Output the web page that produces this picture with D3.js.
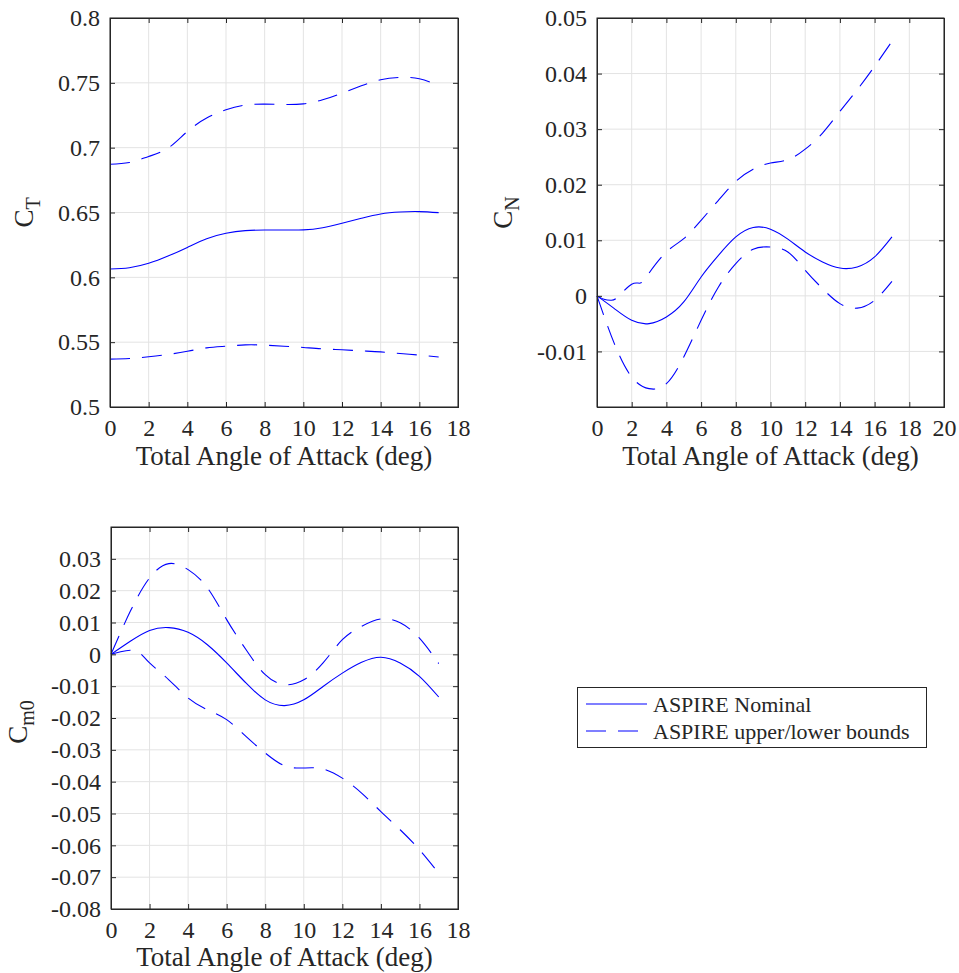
<!DOCTYPE html>
<html>
<head>
<meta charset="utf-8">
<script src="https://cdn.jsdelivr.net/npm/d3@7"></script>
<style>
  body { margin: 0; background: #fff; }
  svg text { font-family: "Liberation Serif", "Times New Roman", serif !important; fill: #262626; }
</style>
</head>
<body>
<script>
// angle of attack samples (deg)
const alpha = [0,1,2,3,4,5,6,7,8,9,10,11,12,13,14,15,16,17];

// C_T
const ctNom = [0.6064,0.6074,0.6108,0.6164,0.6231,0.6298,0.6340,0.6360,0.6365,0.6365,0.6366,0.6383,0.6417,0.6455,0.6489,0.6504,0.6507,0.6499];
const ctUp  = [0.6872,0.6885,0.6932,0.6996,0.7125,0.7228,0.7292,0.7328,0.7336,0.7333,0.7338,0.7369,0.7421,0.7477,0.7524,0.7542,0.7531,0.7480];
const ctLo  = [0.5369,0.5374,0.5387,0.5405,0.5430,0.5456,0.5469,0.5479,0.5477,0.5469,0.5459,0.5448,0.5441,0.5433,0.5425,0.5412,0.5400,0.5385];

// C_N
const cnNom = [0,-0.0023,-0.0044,-0.0050,-0.0038,-0.0011,0.0034,0.0073,0.0106,0.0123,0.0120,0.0102,0.0079,0.0061,0.0050,0.0052,0.0070,0.0106];
const cnAlphaUp = [0,0.4,0.8,1.2,2,2.5,3,4,5,6,7,8,9,10,11,12,13,14,15,16,17];
const cnUp  = [0,-0.0006,-0.0008,-0.0002,0.0021,0.0023,0.0041,0.0079,0.0103,0.0136,0.0172,0.0206,0.0228,0.0239,0.0245,0.0264,0.0293,0.0332,0.0371,0.0413,0.0458];
const cnLo  = [0,-0.0086,-0.0146,-0.0167,-0.0158,-0.0110,-0.0044,0.0016,0.0058,0.0084,0.0088,0.0079,0.0046,0.0013,-0.0014,-0.0022,-0.0008,0.0026];

// C_m0
const cmNom = [0,0.0041,0.0075,0.0084,0.0069,0.0030,-0.0027,-0.0090,-0.0143,-0.0161,-0.0143,-0.0101,-0.0059,-0.0025,-0.0009,-0.0027,-0.0069,-0.0134];
const cmUp  = [0,0.0135,0.0240,0.0285,0.0266,0.0209,0.0109,0.0015,-0.0064,-0.0095,-0.0080,-0.0027,0.0046,0.0088,0.0111,0.0099,0.0051,-0.0029];
const cmAlphaLo = [0,0.5,1,1.5,2,3,4,5,6,7,8,9,10,11,12,13,14,15,16,17];
const cmLo  = [0,0.0008,0.0013,0.0004,-0.0027,-0.0080,-0.0137,-0.0174,-0.0205,-0.0258,-0.0310,-0.0350,-0.0357,-0.0360,-0.0389,-0.0436,-0.0494,-0.0551,-0.0614,-0.0688];

// tick labels
const ctTicks = [0.5,0.55,0.6,0.65,0.7,0.75,0.8];
const cnTicks = [-0.01,0,0.01,0.02,0.03,0.04,0.05];
const cmTicks = [-0.08,-0.07,-0.06,-0.05,-0.04,-0.03,-0.02,-0.01,0,0.01,0.02,0.03];

const svg = d3.select("body").append("svg")
    .attr("width", 959)
    .attr("height", 973);

const blue = "#0000ff";
const dash = "20,12";

function pairs(xs, ys) { return xs.map((x, i) => [x, ys[i]]); }

// matlab style label: plain hyphen, no trailing zeros
const fmtY = d => String(+d.toFixed(3));

function panel(o) {
  const x = d3.scaleLinear().domain(o.xdom).range([o.left, o.right]);
  const y = d3.scaleLinear().domain(o.ydom).range([o.bottom, o.top]);
  const g = svg.append("g");

  // grid
  g.selectAll(".gx").data(o.xticks).enter().append("line")
      .attr("x1", d => x(d)).attr("x2", d => x(d))
      .attr("y1", o.top).attr("y2", o.bottom)
      .attr("stroke", "#e3e3e3").attr("stroke-width", 1);
  g.selectAll(".gy").data(o.yticks).enter().append("line")
      .attr("x1", o.left).attr("x2", o.right)
      .attr("y1", d => y(d)).attr("y2", d => y(d))
      .attr("stroke", "#e3e3e3").attr("stroke-width", 1);

  // curves
  const line = d3.line().x(d => x(d[0])).y(d => y(d[1])).curve(d3.curveNatural);
  o.series.forEach(s => {
    g.append("path")
      .attr("d", line(s.pts))
      .attr("fill", "none")
      .attr("stroke", blue)
      .attr("stroke-width", 1.1)
      .attr("stroke-dasharray", s.dashed ? dash : null);
  });

  // axes with inward ticks on all sides
  const tl = 5;
  const ax = [
    g.append("g").attr("transform", `translate(0,${o.bottom})`)
      .call(d3.axisBottom(x).tickValues(o.xticks).tickSize(-tl).tickPadding(12).tickFormat(d => String(d))),
    g.append("g").attr("transform", `translate(0,${o.top})`)
      .call(d3.axisTop(x).tickValues(o.xticks).tickSize(-tl).tickFormat("")),
    g.append("g").attr("transform", `translate(${o.left},0)`)
      .call(d3.axisLeft(y).tickValues(o.yticks).tickSize(-tl).tickPadding(10).tickFormat(fmtY)),
    g.append("g").attr("transform", `translate(${o.right},0)`)
      .call(d3.axisRight(y).tickValues(o.yticks).tickSize(-tl).tickFormat(""))
  ];
  ax.forEach(a => a.attr("font-family", "Liberation Serif").attr("font-size", 24));
  g.selectAll(".domain").attr("stroke", "#262626");
  g.selectAll(".tick line").attr("stroke", "#262626");
  g.selectAll(".tick text").attr("fill", "#262626");

  // frame
  g.append("rect")
      .attr("x", o.left).attr("y", o.top)
      .attr("width", o.right - o.left).attr("height", o.bottom - o.top)
      .attr("fill", "none").attr("stroke", "#262626").attr("stroke-width", 1);

  // x label
  g.append("text")
      .attr("x", (o.left + o.right) / 2).attr("y", o.xlabY)
      .attr("text-anchor", "middle")
      .style("font-size", "27px")
      .text("Total Angle of Attack (deg)");

  // y label
  const yl = g.append("text")
      .attr("transform", `translate(${o.ylabX},${(o.top + o.bottom) / 2 + o.ylabDy}) rotate(-90)`)
      .attr("text-anchor", "middle")
      .style("font-size", "27px");
  yl.append("tspan").text("C");
  yl.append("tspan").attr("dy", 7).style("font-size", "20px").text(o.sub);
}

panel({
  left: 110, right: 458, top: 18, bottom: 407,
  xdom: [0, 18], ydom: [0.5, 0.8],
  xticks: d3.range(0, 19, 2), yticks: ctTicks,
  xlabY: 465, ylabX: 33, ylabDy: 0, sub: "T",
  series: [
    { pts: pairs(alpha, ctNom), dashed: false },
    { pts: pairs(alpha, ctUp), dashed: true },
    { pts: pairs(alpha, ctLo), dashed: true }
  ]
});

panel({
  left: 597, right: 944, top: 18, bottom: 407,
  xdom: [0, 20], ydom: [-0.02, 0.05],
  xticks: d3.range(0, 21, 2), yticks: cnTicks,
  xlabY: 465, ylabX: 512, ylabDy: 0, sub: "N",
  series: [
    { pts: pairs(alpha, cnNom), dashed: false },
    { pts: pairs(cnAlphaUp, cnUp), dashed: true },
    { pts: pairs(alpha, cnLo), dashed: true }
  ]
});

panel({
  left: 111, right: 458, top: 527, bottom: 909,
  xdom: [0, 18], ydom: [-0.08, 0.04],
  xticks: d3.range(0, 19, 2), yticks: cmTicks,
  xlabY: 966, ylabX: 27, ylabDy: 4, sub: "m0",
  series: [
    { pts: pairs(alpha, cmNom), dashed: false },
    { pts: pairs(alpha, cmUp), dashed: true },
    { pts: pairs(cmAlphaLo, cmLo), dashed: true }
  ]
});

// legend
const leg = svg.append("g");
leg.append("rect")
    .attr("x", 577.5).attr("y", 687.5).attr("width", 349).attr("height", 60)
    .attr("fill", "#fff").attr("stroke", "#262626").attr("stroke-width", 1);
const legItems = [
  { label: "ASPIRE Nominal", dashed: false, y: 704 },
  { label: "ASPIRE upper/lower bounds", dashed: true, y: 731 }
];
legItems.forEach(d => {
  leg.append("line")
      .attr("x1", 586).attr("x2", 647).attr("y1", d.y).attr("y2", d.y)
      .attr("stroke", blue).attr("stroke-width", 1.1)
      .attr("stroke-dasharray", d.dashed ? dash : null);
  leg.append("text")
      .attr("x", 653).attr("y", d.y + 7.5)
      .style("font-size", "22px")
      .text(d.label);
});
</script>
</body>
</html>
